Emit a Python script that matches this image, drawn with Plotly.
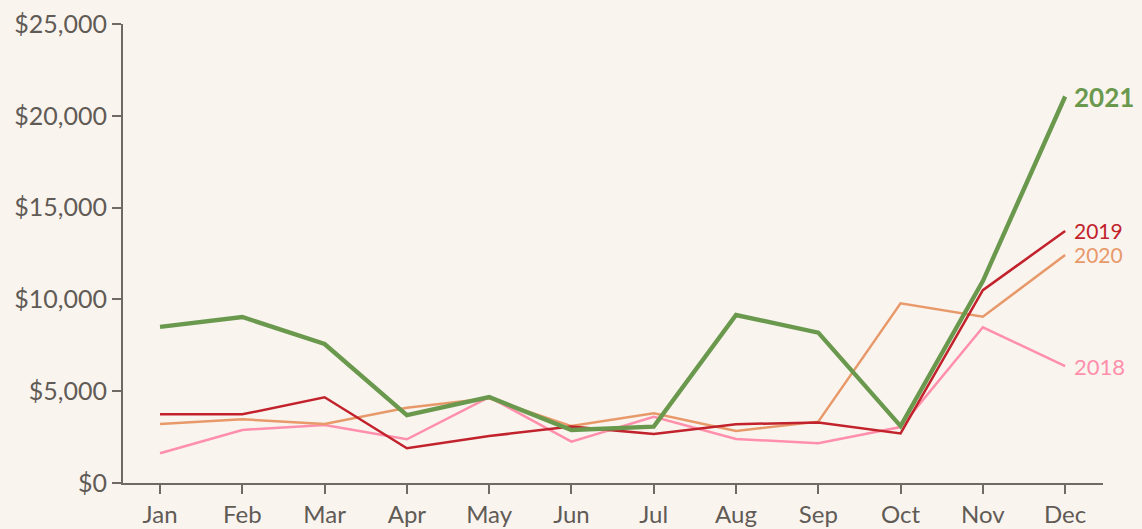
import plotly.graph_objects as go

months = ["Jan", "Feb", "Mar", "Apr", "May", "Jun", "Jul", "Aug", "Sep", "Oct", "Nov", "Dec"]
sales_2018 = [1620, 2890, 3160, 2380, 4680, 2250, 3610, 2400, 2160, 3050, 8480, 6370]
sales_2019 = [3740, 3740, 4670, 1890, 2560, 3070, 2670, 3200, 3300, 2700, 10500, 13730]
sales_2020 = [3210, 3470, 3210, 4100, 4610, 3100, 3800, 2830, 3340, 9790, 9060, 12420]
sales_2021 = [8500, 9040, 7570, 3700, 4680, 2890, 3070, 9150, 8190, 3100, 11000, 21050]
y_ticks = [0, 5000, 10000, 15000, 20000, 25000]

series = [
    ("2018", sales_2018, "#ff8fab", 2.5, False, 22),
    ("2020", sales_2020, "#e8996a", 2.5, False, 21),
    ("2019", sales_2019, "#c1222b", 2.5, False, 21),
    ("2021", sales_2021, "#6a994e", 4.4, True, 26),
]

FONT = "Lato"
TXT = "#615b56"
AX = "#6f6a65"
BG = "#faf4ef"

fig = go.Figure()
for name, vals, color, width, bold, fs in series:
    fig.add_trace(go.Scatter(x=months, y=vals, mode="lines", name=name,
                             line=dict(color=color, width=width), cliponaxis=False,
                             hoverinfo="skip"))
    fig.add_annotation(x=months[-1], y=vals[-1], text=f"<b>{name}</b>" if bold else name,
                       showarrow=False, xanchor="left", yanchor="middle", xshift=7,
                       font=dict(family=FONT, size=fs, color=color))

fig.update_layout(
    width=1142, height=529,
    margin=dict(l=123, r=39, t=24, b=46),
    paper_bgcolor=BG, plot_bgcolor=BG,
    showlegend=False,
    font=dict(family=FONT, size=23, color=TXT),
)
fig.update_xaxes(range=[-0.45, 11.46], showgrid=False, zeroline=False, automargin=False,
                 showline=True, linecolor=AX, linewidth=2.2,
                 ticks="outside", ticklen=9, tickwidth=2, tickcolor=AX,
                 tickfont=dict(family=FONT, size=24, color=TXT))
fig.update_yaxes(range=[0, 25000], tickvals=y_ticks, automargin=False,
                 ticktext=[f"${v:,}" for v in y_ticks],
                 showgrid=False, zeroline=False,
                 showline=True, linecolor=AX, linewidth=2.2,
                 ticks="outside", ticklen=9, tickwidth=2, tickcolor=AX,
                 tickfont=dict(family=FONT, size=25, color=TXT))

fig.write_html("out.html", config={"displayModeBar": False},
               post_script="document.body.style.margin='0';document.body.style.overflow='hidden';document.body.style.background='" + BG + "';")
